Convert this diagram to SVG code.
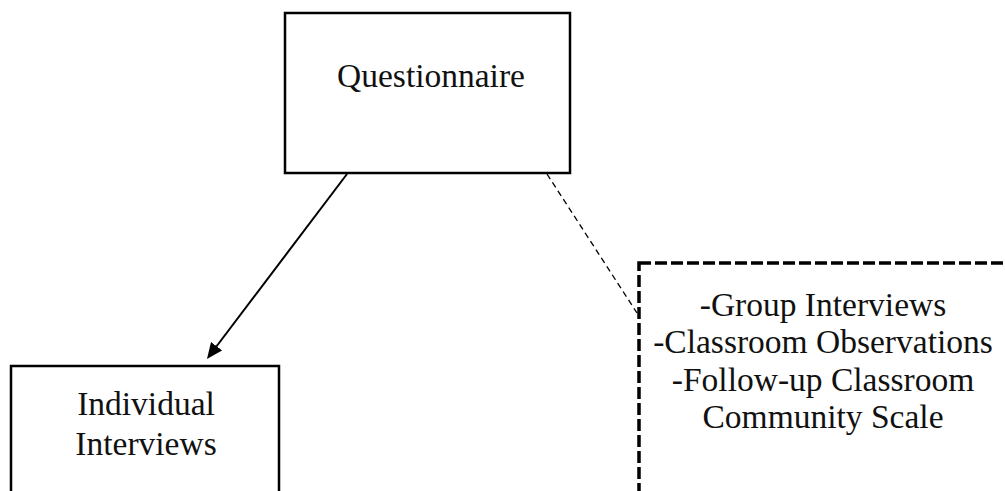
<svg xmlns="http://www.w3.org/2000/svg" width="1005" height="491" viewBox="0 0 1005 491">
<style>
.box{fill:#fff;stroke:#000;stroke-width:2.5}
.dbox{fill:#fff;stroke:#000;stroke-width:3.5;stroke-dasharray:12 4}
.lbl{font-family:"Liberation Serif","Times New Roman",serif;font-size:33.5px;fill:#111;text-anchor:middle}
.conn{stroke:#000;fill:none}
</style>
<defs>
<marker id="arr" markerUnits="userSpaceOnUse" markerWidth="18" markerHeight="14" refX="6" refY="7" orient="auto">
<path d="M0,0 L16,7 L0,14 z" fill="#000"/>
</marker>
</defs>
<rect width="1005" height="491" fill="#fff"/>
<g id="connectors">
<line class="conn" x1="347" y1="174" x2="213" y2="351" stroke-width="2" marker-end="url(#arr)"/>
<line class="conn" x1="547" y1="174" x2="637" y2="313" stroke-width="1.3" stroke-dasharray="6 4"/>
</g>
<g id="questionnaire">
<rect class="box" x="285" y="13" width="285" height="160"/>
<text class="lbl" x="431" y="87">Questionnaire</text>
</g>
<g id="individual">
<rect class="box" x="11" y="366" width="268" height="160"/>
<text class="lbl" x="146" y="415">Individual</text>
<text class="lbl" x="146" y="455">Interviews</text>
</g>
<g id="group">
<rect class="dbox" x="639" y="263" width="400" height="260"/>
<text class="lbl" x="823" y="316">-Group Interviews</text>
<text class="lbl" x="823" y="353">-Classroom Observations</text>
<text class="lbl" x="823" y="391">-Follow-up Classroom</text>
<text class="lbl" x="823" y="428">Community Scale</text>
</g>
</svg>
